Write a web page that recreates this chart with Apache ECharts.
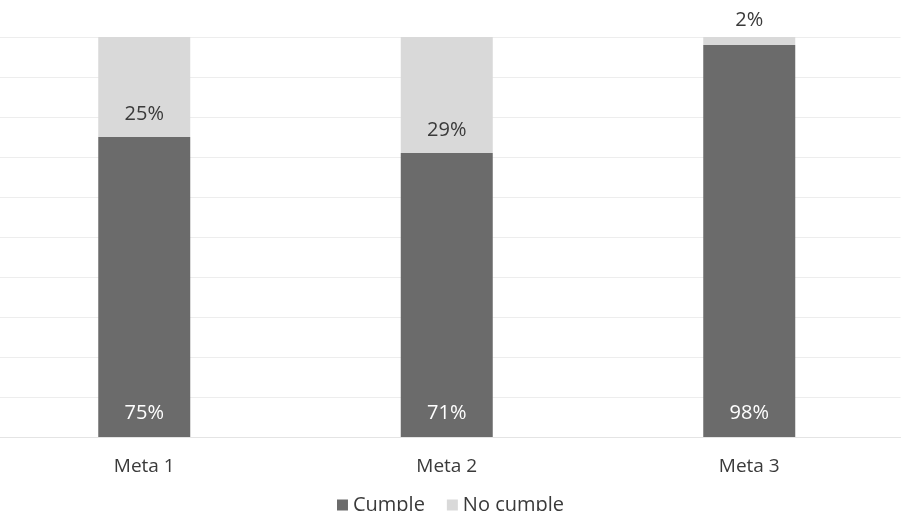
<!DOCTYPE html>
<html>
<head>
<meta charset="utf-8">
<script src="https://cdn.jsdelivr.net/npm/echarts@6/dist/echarts.min.js"></script>
<style>
  html, body { margin: 0; padding: 0; background: #ffffff; }
  #chart { width: 901px; height: 511px; }
</style>
</head>
<body>
<div id="chart"></div>
<script>
// Share of each goal that is met / not met (percent)
const categories = ['Meta 1', 'Meta 2', 'Meta 3'];
const cumple = [75, 71, 98];
const noCumple = [25, 29, 2];
const seriesNames = ['Cumple', 'No cumple'];

const FONT = '"Open Sans", "DejaVu Sans", sans-serif';
const DARK = '#6b6b6b';
const LIGHT = '#d9d9d9';
const TEXT = '#3a3a3a';

const chart = echarts.init(document.getElementById('chart'), null, { renderer: 'canvas' });

// Small slices get their label above the bar instead of inside it
const noCumpleData = noCumple.map(v => v < 5
  ? { value: v, label: { position: 'top', distance: 7 } }
  : { value: v });

chart.setOption({
  animation: false,
  backgroundColor: '#ffffff',
  grid: {
    left: -7, width: 907.5, top: 37, bottom: 74,
    containLabel: false,
    outerBoundsMode: 'none'
  },
  xAxis: {
    type: 'category',
    data: categories,
    axisLine: { show: true, lineStyle: { color: '#e4e4e4', width: 1 } },
    axisTick: { show: false },
    axisLabel: { color: TEXT, fontFamily: FONT, fontSize: 19, margin: 20 }
  },
  yAxis: {
    type: 'value',
    min: 0,
    max: 100,
    interval: 10,
    axisLabel: { show: false },
    axisLine: { show: false },
    axisTick: { show: false },
    splitLine: { lineStyle: { color: '#ededed', width: 1 } }
  },
  legend: {
    top: 490,
    left: 'center',
    itemWidth: 11,
    itemHeight: 11,
    itemGap: 22,
    icon: 'rect',
    textStyle: { color: TEXT, fontFamily: FONT, fontSize: 20, padding: [0, 0, 0, 0] },
    data: seriesNames
  },
  series: [
    {
      name: seriesNames[0],
      type: 'bar',
      stack: 'total',
      barWidth: 92,
      data: cumple,
      itemStyle: { color: DARK },
      label: {
        show: true,
        position: 'insideBottom',
        distance: 14,
        formatter: '{c}%',
        color: '#ffffff',
        fontFamily: FONT,
        fontSize: 20
      }
    },
    {
      name: seriesNames[1],
      type: 'bar',
      stack: 'total',
      barWidth: 92,
      data: noCumpleData,
      itemStyle: { color: LIGHT },
      label: {
        show: true,
        position: 'insideBottom',
        distance: 13,
        formatter: '{c}%',
        color: TEXT,
        fontFamily: FONT,
        fontSize: 20
      }
    }
  ]
});
</script>
</body>
</html>
